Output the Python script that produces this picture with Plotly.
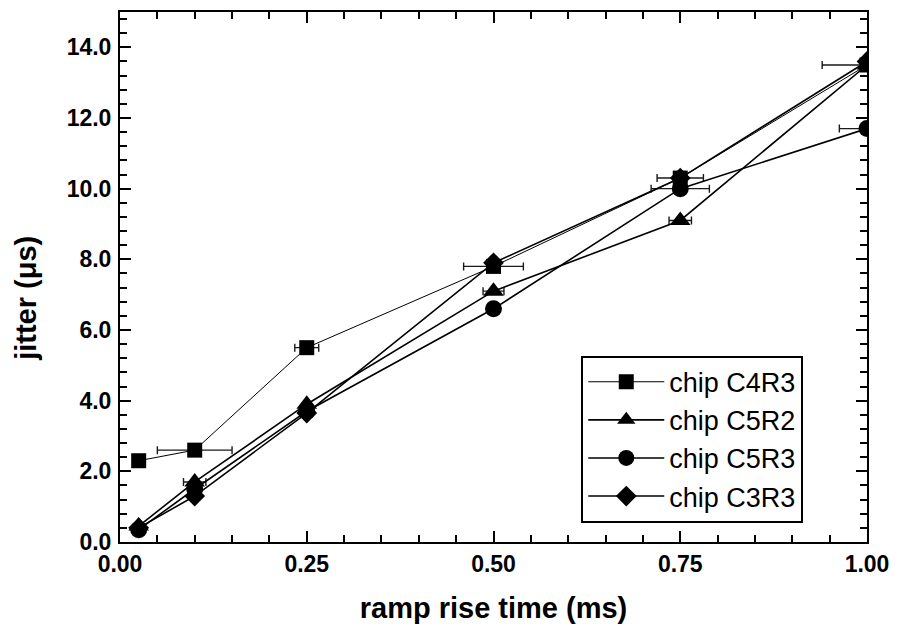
import plotly.graph_objects as go

# Ramp rise time (ms) for every chip
rise_time = [0.025, 0.1, 0.25, 0.5, 0.75, 1.0]

# Measured jitter (µs) per chip
jitter_c4r3 = [2.3, 2.6, 5.5, 7.8, 10.3, 13.5]
jitter_c5r2 = [0.45, 1.7, 3.9, 7.1, 9.1, 13.5]
jitter_c5r3 = [0.35, 1.5, 3.7, 6.6, 10.0, 11.7]
jitter_c3r3 = [0.4, 1.3, 3.65, 7.9, 10.3, 13.6]

# Horizontal uncertainty on the rise time (ms)
xerr_c4r3 = [0, 0.05, 0.016, 0.04, 0.031, 0.06]
xerr_c5r2 = [0, 0.015, 0, 0.014, 0.015, 0]
xerr_c5r3 = [0, 0, 0, 0, 0.039, 0.037]

series = [
    ("chip C4R3", jitter_c4r3, xerr_c4r3, "square", 15, 1.0),
    ("chip C5R2", jitter_c5r2, xerr_c5r2, "triangle-up", 18, 1.6),
    ("chip C5R3", jitter_c5r3, xerr_c5r3, "circle", 17, 1.6),
    ("chip C3R3", jitter_c3r3, None, "diamond", 16, 1.6),
]

FONT = "Arial, Liberation Sans, sans-serif"

fig = go.Figure()
for name, y, xerr, symbol, size, lw in series:
    kw = {}
    if xerr is not None:
        kw["error_x"] = dict(type="data", array=xerr, symmetric=True,
                             color="#1a1a1a", thickness=1.4, width=4)
    fig.add_trace(go.Scatter(
        x=rise_time, y=y, name=name, mode="lines+markers",
        line=dict(color="black", width=lw),
        marker=dict(symbol=symbol, size=size, color="black",
                    line=dict(width=0)),
        **kw,
    ))

axis_common = dict(
    showline=True, linecolor="black", linewidth=2, mirror="ticks",
    ticks="inside", ticklen=11, tickwidth=1.5, tickcolor="black",
    showgrid=False, zeroline=False,
    tickfont=dict(family=FONT, size=23, color="black", weight="bold"),
)

fig.update_xaxes(
    range=[0, 1], dtick=0.25, tick0=0, tickformat=".2f",
    minor=dict(dtick=0.05, ticks="inside", ticklen=7, tickwidth=1.5,
               tickcolor="black"),
    title=dict(text="ramp rise time (ms)", standoff=22,
               font=dict(family=FONT, size=29, color="black", weight="bold")),
    **axis_common,
)
fig.update_yaxes(
    range=[0, 15], dtick=2, tick0=0, tickformat=".1f",
    minor=dict(dtick=0.4, ticks="inside", ticklen=7, tickwidth=1.5,
               tickcolor="black"),
    ticklabelstandoff=2,
    **axis_common,
)

fig.add_annotation(
    text="jitter (μs)", textangle=-90, showarrow=False,
    xref="paper", yref="paper", x=-0.125, y=0.46,
    xanchor="center", yanchor="middle",
    font=dict(family=FONT, size=29, color="black", weight="bold"),
)

fig.update_layout(
    width=899, height=629,
    margin=dict(l=120, r=26, t=10, b=87),
    paper_bgcolor="white", plot_bgcolor="white",
    showlegend=True,
    legend=dict(
        x=0.6175, y=0.3515, xanchor="left", yanchor="top",
        bgcolor="white", bordercolor="black", borderwidth=2,
        font=dict(family=FONT, size=27, color="black"),
        itemwidth=76,
    ),
)

fig.write_html("out.html")
